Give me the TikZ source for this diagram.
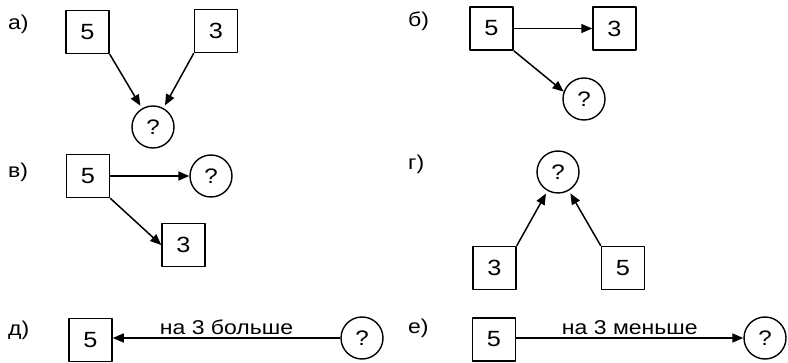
\documentclass[tikz,border=0pt]{standalone}
\usepackage{fontspec}
\setsansfont[FakeStretch=1.15]{Liberation Sans}
\usetikzlibrary{arrows.meta}

\begin{document}
\begin{tikzpicture}[
    x=1pt, y=-1pt,
    >={Triangle[length=11pt, width=9pt]},
    line join=round,
    font=\sffamily,
    numbox/.style={draw, line width=1.5pt, minimum size=43pt, inner sep=0pt,
                   font=\sffamily\fontsize{22}{22}\selectfont},
    qcirc/.style={draw, circle, line width=1.4pt, minimum size=42pt, inner sep=0pt,
                  font=\sffamily\fontsize{21}{21}\selectfont},
    tag/.style={anchor=west, inner sep=0pt, font=\sffamily\fontsize{20}{20}\selectfont},
    link/.style={->, line width=1.5pt},
    note/.style={above=3pt, inner sep=0pt, font=\sffamily\fontsize{20}{20}\selectfont}
]

  % ==================== ПАРАМЕТРЫ ====================
  \def\xL{8}      % левый столбец подписей
  \def\xR{408}    % правый столбец подписей
  \def\gap{3pt}   % недолёт стрелки до кружка

  \useasboundingbox (0,0) rectangle (788,363);

  % ==================== а) ====================
  \node[tag] (tagA) at (\xL,24) {а)};
  \node[numbox] (a5) at (87.5,32) {5};
  \node[numbox] (a3) at (216,31) {3};
  \node[qcirc] (aq) at (153,127) {?};
  \draw[link, shorten >=\gap] (a5.south east) -- (aq);
  \draw[link, shorten >=\gap] (a3.south west) -- (aq);

  % ==================== б) ====================
  \node[tag] (tagB) at (\xR,21) {б)};
  \node[numbox] (b5) at (491.5,28.5) {5};
  \node[numbox] (b3) at (614.5,28.5) {3};
  \node[qcirc] (bq) at (584,99) {?};
  \draw[link] (b5) -- (b3);
  \draw[link] (b5.south east) -- (bq.160);

  % ==================== в) ====================
  \node[tag] (tagV) at (\xL,172) {в)};
  \node[numbox] (v5) at (88,176) {5};
  \node[qcirc] (vq) at (211,176) {?};
  \node[numbox] (v3) at (183.5,245) {3};
  \draw[link] (v5) -- (vq);
  \draw[link] (v5.south east) -- (v3.west);

  % ==================== г) ====================
  \node[tag] (tagG) at (\xR,164) {г)};
  \node[qcirc] (gq) at (558,172) {?};
  \node[numbox] (g3) at (494.5,268) {3};
  \node[numbox] (g5) at (623,268) {5};
  \draw[link, shorten >=\gap] (g3.north east) -- (gq);
  \draw[link, shorten >=\gap] (g5.north west) -- (gq);

  % ==================== д) ====================
  \node[tag] (tagD) at (\xL,330) {д)};
  \node[numbox] (d5) at (90.5,340) {5};
  \node[qcirc] (dq) at (362,338) {?};
  \draw[link] (dq.west) -- node[note] {на 3 больше} (d5.east |- dq.west);

  % ==================== е) ====================
  \node[tag] (tagE) at (\xR,328) {е)};
  \node[numbox] (e5) at (494,339.5) {5};
  \node[qcirc] (eq) at (765,338) {?};
  \draw[link] (e5.east |- eq.west) -- node[note] {на 3 меньше} (eq.west);

\end{tikzpicture}
\end{document}
